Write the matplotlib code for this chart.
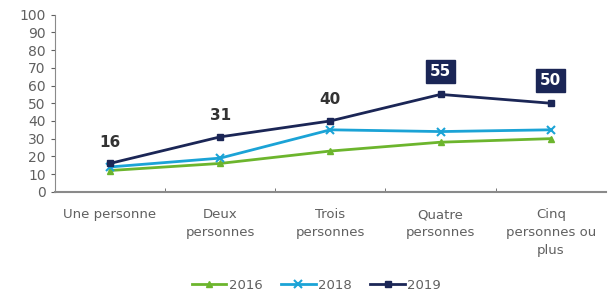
import numpy as np
import matplotlib.pyplot as plt

categories = ["Une personne", "Deux\npersonnes", "Trois\npersonnes", "Quatre\npersonnes", "Cinq\npersonnes ou\nplus"]
v2016 = [12, 16, 23, 28, 30]
v2018 = [14, 19, 35, 34, 35]
v2019 = [16, 31, 40, 55, 50]

green = "#6cb52d"
cyan = "#1ba3d6"
navy = "#1b2656"
grey = "#606060"

fig = plt.figure(figsize=(6.09, 2.95), dpi=100)
ax = fig.add_axes([0.09, 0.35, 0.905, 0.6])

x = np.arange(len(categories))
ax.plot(x, v2016, color=green, lw=2, marker="^", ms=5, label="2016")
ax.plot(x, v2018, color=cyan, lw=2, marker="x", ms=6, mew=1.5, label="2018")
ax.plot(x, v2019, color=navy, lw=2, marker="s", ms=5, label="2019")

# labels above 2019 points; last two in dark boxes
for i, v in enumerate(v2019):
    if i < 3:
        ax.annotate(str(v), (i, v), xytext=(0, 10), textcoords="offset points",
                    ha="center", va="bottom", fontsize=11, fontweight="bold", color="#333333")
    else:
        ax.annotate(str(v), (i, v), xytext=(0, 11), textcoords="offset points",
                    ha="center", va="bottom", fontsize=11, fontweight="bold", color="white",
                    bbox=dict(boxstyle="square,pad=0.25", fc=navy, ec=navy))

ax.set_xlim(-0.5, len(categories) - 0.5)
ax.set_ylim(0, 100)
ax.set_yticks(range(0, 101, 10))
ax.set_xticks(x)
ax.set_xticklabels(categories, fontsize=9.5, color=grey, va="top", linespacing=1.5)
ax.set_xticks(np.arange(0.5, len(categories) - 0.5, 1), minor=True)
ax.tick_params(axis="x", which="major", length=0, pad=12)
ax.tick_params(axis="x", which="minor", length=3, direction="in", color=grey)
ax.tick_params(axis="y", labelsize=10, colors=grey, length=3, direction="out")
for s in ["top", "right"]:
    ax.spines[s].set_visible(False)
for s in ["left", "bottom"]:
    ax.spines[s].set_color("#8a8a8a")
ax.spines["bottom"].set_linewidth(1.5)

fig.legend(loc="lower center", bbox_to_anchor=(0.52, -0.03), ncol=3, frameon=False,
           fontsize=9.5, labelcolor=grey, handlelength=2.6, columnspacing=1.4, handletextpad=0.2)

fig.savefig("out.png", dpi=100)
